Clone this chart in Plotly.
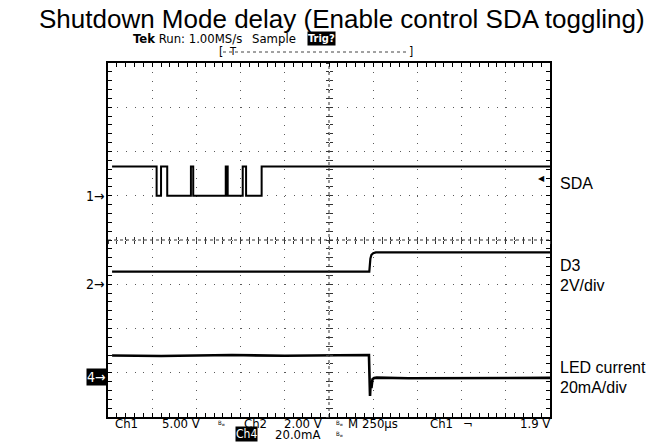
import plotly.graph_objects as go

# ---------------- data (time in µs from left edge of screen, 250 µs/div) -------------
sda_t = [23, 275, 300, 335, 469, 482, 666, 677, 762, 781, 869, 2500]
sda_v = [3.3, 0.0, 3.3, 0.0, 3.3, 0.0, 3.3, 0.0, 3.3, 0.0, 3.3, 3.3]   # volts, Ch1

d3_t = [23, 1478, 1484, 1490, 1500, 1515, 2500]
d3_v = [0.57, 0.57, 1.15, 1.33, 1.40, 1.44, 1.44]                      # volts, Ch2

led_t = [23, 300, 700, 1000, 1300, 1476, 1482, 1486, 1490, 1496, 1505, 1520, 1700, 2000, 2300, 2500]
led_i = [9.7, 9.5, 9.9, 9.6, 9.8, 9.9, -8.6, -2.0, -5.0, -1.0, -0.5, -0.3, -0.6, -0.4, -0.5, -0.4]  # mA, Ch4

T_PER_DIV = 250
N_XDIV = 10
CH1_RANGE = [-25, 15]     # 5 V/div, ground 1 div above centre
CH2_RANGE = [-6, 10]      # 2 V/div, ground 1 div below centre
CH4_RANGE = [-18.1, 141.9]  # 20 mA/div
TRIG_LEVEL = 1.9

W, H = 662, 442
L, R, T, B = 108, 550, 63, 417
PW, PH = R - L, B - T


def px(x):
    return (x - L) / PW


def py(y):
    return (B - y) / PH


fig = go.Figure()
fig.add_trace(go.Scatter(x=sda_t, y=sda_v, mode="lines", line=dict(color="black", width=2, shape="hv"),
                         yaxis="y", xaxis="x", hoverinfo="skip"))
fig.add_trace(go.Scatter(x=d3_t, y=d3_v, mode="lines", line=dict(color="black", width=2.2),
                         yaxis="y2", xaxis="x", hoverinfo="skip"))
fig.add_trace(go.Scatter(x=led_t, y=led_i, mode="lines", line=dict(color="black", width=2.6),
                         yaxis="y3", xaxis="x", hoverinfo="skip"))

scope_font = "Liberation Sans Narrow, DejaVu Sans Condensed, Liberation Sans, sans-serif"
grid_col = "#5a5a5a"
dotdash = "1px,7.84px"

fig.update_layout(
    width=W, height=H, autosize=False,
    margin=dict(l=L, r=W - R, t=T, b=H - B),
    paper_bgcolor="white", plot_bgcolor="white",
    showlegend=False,
    xaxis=dict(range=[0, T_PER_DIV * N_XDIV], dtick=T_PER_DIV, tick0=0,
               showgrid=True, gridcolor=grid_col, gridwidth=1, griddash=dotdash,
               zeroline=False, showticklabels=False,
               showline=True, linecolor="black", linewidth=2, mirror="ticks",
               ticks="inside", ticklen=4, tickcolor="black", tickwidth=1,
               minor=dict(dtick=T_PER_DIV / 5, ticks="inside", ticklen=4, tickcolor="black", tickwidth=1),
               fixedrange=True),
    yaxis=dict(range=CH1_RANGE, dtick=5, tick0=0,
               showgrid=True, gridcolor=grid_col, gridwidth=1, griddash=dotdash,
               zeroline=False, showticklabels=False,
               showline=True, linecolor="black", linewidth=2, mirror="ticks",
               ticks="inside", ticklen=4, tickcolor="black", tickwidth=1,
               minor=dict(dtick=1, ticks="inside", ticklen=4, tickcolor="black", tickwidth=1),
               fixedrange=True),
    yaxis2=dict(range=CH2_RANGE, overlaying="y", visible=False, fixedrange=True),
    yaxis3=dict(range=CH4_RANGE, overlaying="y", visible=False, fixedrange=True),
    # centre cross-hair tick marks
    xaxis2=dict(range=[0, T_PER_DIV * N_XDIV], overlaying="x", anchor="free", position=0.5,
                dtick=T_PER_DIV / 5, ticks="outside", ticklen=3, tickcolor="#333", showticklabels=False,
                showgrid=False, zeroline=False, showline=False, fixedrange=True),
    xaxis3=dict(range=[0, T_PER_DIV * N_XDIV], overlaying="x", anchor="free", position=0.5,
                dtick=T_PER_DIV / 5, ticks="inside", ticklen=3, tickcolor="#333", showticklabels=False,
                showgrid=False, zeroline=False, showline=False, fixedrange=True),
    yaxis4=dict(range=CH1_RANGE, overlaying="y", anchor="free", position=0.5,
                dtick=1, ticks="outside", ticklen=3, tickcolor="#333", showticklabels=False,
                showgrid=False, zeroline=False, showline=False, fixedrange=True),
    yaxis5=dict(range=CH1_RANGE, overlaying="y", anchor="free", position=0.5, side="left",
                dtick=1, ticks="inside", ticklen=3, tickcolor="#333", showticklabels=False,
                showgrid=False, zeroline=False, showline=False, fixedrange=True),
)

# dummy traces to make the centre axes render
fig.add_trace(go.Scatter(x=[None], y=[None], xaxis="x2", yaxis="y4", hoverinfo="skip"))
fig.add_trace(go.Scatter(x=[None], y=[None], xaxis="x3", yaxis="y5", hoverinfo="skip"))

# centre dotted cross-hair
fig.add_shape(type="line", xref="paper", yref="paper", x0=0, x1=1, y0=0.5, y1=0.5,
              line=dict(color="#333", width=1, dash="dot"))
fig.add_shape(type="line", xref="paper", yref="paper", x0=0.5, x1=0.5, y0=0, y1=1,
              line=dict(color="#333", width=1, dash="dot"))

ann = []
# title
ann.append(dict(text="Shutdown Mode delay (Enable control SDA toggling)", xref="paper", yref="paper",
                x=px(341.5), y=py(19), xanchor="center", yanchor="middle", showarrow=False,
                font=dict(family="Liberation Sans, Arial", size=26, color="black")))
# Tek status line
ann.append(dict(text="<b>Tek</b> Run: 1.00MS/s", xref="paper", yref="paper", x=px(131), y=py(38),
                xanchor="left", yanchor="middle", showarrow=False,
                font=dict(family=scope_font, size=13, color="black")))
ann.append(dict(text="Sample", xref="paper", yref="paper", x=px(250), y=py(38),
                xanchor="left", yanchor="middle", showarrow=False,
                font=dict(family=scope_font, size=13, color="black")))
ann.append(dict(text="<b>Trig?</b>", xref="paper", yref="paper", x=px(307), y=py(38),
                xanchor="left", yanchor="middle", showarrow=False, bgcolor="black", borderpad=0,
                font=dict(family=scope_font, size=11, color="white")))
# record view bracket
ann.append(dict(text="[", xref="paper", yref="paper", x=px(221), y=py(52), xanchor="center", yanchor="middle",
                showarrow=False, font=dict(family=scope_font, size=12, color="black")))
ann.append(dict(text="]", xref="paper", yref="paper", x=px(411), y=py(52), xanchor="center", yanchor="middle",
                showarrow=False, font=dict(family=scope_font, size=12, color="black")))
ann.append(dict(text="T", xref="paper", yref="paper", x=px(233), y=py(51), xanchor="center", yanchor="middle",
                showarrow=False, font=dict(family=scope_font, size=11, color="black")))
fig.add_shape(type="line", xref="paper", yref="paper", x0=px(223), x1=px(409), y0=py(52), y1=py(52),
              line=dict(color="#444", width=1, dash="dot"))

# channel ground markers
for txt, yref, bg, fc in [("1→", "y", None, "black"), ("2→", "y2", None, "black"), ("4→", "y3", "black", "white")]:
    d = dict(text=txt, xref="paper", yref=yref, x=0, y=0, xanchor="right", yanchor="middle",
             xshift=-1, showarrow=False, font=dict(family=scope_font, size=14, color=fc))
    if bg:
        d.update(bgcolor=bg, borderpad=0)
    ann.append(d)
# trigger level marker
ann.append(dict(text="◀", xref="paper", yref="y", x=1, y=TRIG_LEVEL, xanchor="right", yanchor="middle",
                xshift=-3, showarrow=False, font=dict(family="DejaVu Sans", size=8, color="black")))

# right-hand labels
for txt, y in [("SDA", 183), ("D3", 265), ("2V/div", 285), ("LED current", 367), ("20mA/div", 387)]:
    ann.append(dict(text=txt, xref="paper", yref="paper", x=px(558), y=py(y), xanchor="left", yanchor="middle",
                    showarrow=False, font=dict(family="Liberation Sans, Arial", size=16, color="black")))

# bottom status line
bot1 = [("Ch1", 113), ("5.00 V", 160), ("Ch2", 242), ("2.00 V", 282), ("M", 346), ("250µs", 360),
        ("Ch1", 428), ("¬", 461), ("1.9 V", 518)]
for txt, x in bot1:
    ann.append(dict(text=txt, xref="paper", yref="paper", x=px(x), y=py(423), xanchor="left", yanchor="middle",
                    showarrow=False, font=dict(family=scope_font, size=13, color="black")))
for x, y in [(216, 423), (334, 423), (334, 434)]:
    ann.append(dict(text="B<sub>w</sub>", xref="paper", yref="paper", x=px(x), y=py(y), xanchor="left",
                    yanchor="middle", showarrow=False, font=dict(family=scope_font, size=6, color="black")))
ann.append(dict(text="Ch4", xref="paper", yref="paper", x=px(235), y=py(434), xanchor="left", yanchor="middle",
                showarrow=False, bgcolor="black", borderpad=0,
                font=dict(family=scope_font, size=12, color="white")))
ann.append(dict(text="20.0mA", xref="paper", yref="paper", x=px(273), y=py(434), xanchor="left", yanchor="middle",
                showarrow=False, font=dict(family=scope_font, size=13, color="black")))

fig.update_layout(annotations=ann)
fig.write_html("out.html", config={"displayModeBar": False},
               post_script="document.body.style.margin='0';document.body.style.overflow='hidden';")
